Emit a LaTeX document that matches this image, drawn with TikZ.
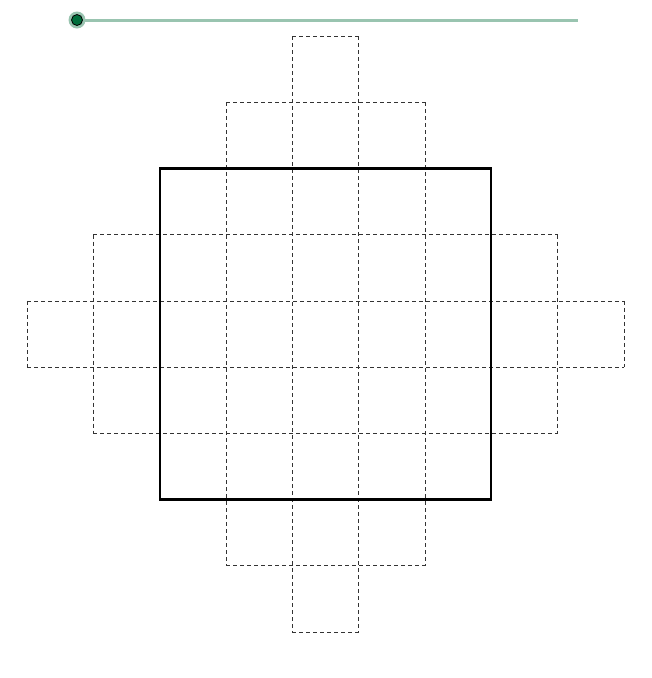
\documentclass[tikz,border=0pt]{standalone}
\begin{document}
\begin{tikzpicture}[x=1pt,y=-1pt,
  gridline/.style={draw=black!80,line width=0.6pt,dash pattern=on 4pt off 3pt},
  sq/.style={draw=black,line width=2.2pt},
  slider/.style={draw={rgb,255:red,153;green,196;blue,176},line width=3pt},
  knob/.style={circle,fill={rgb,255:red,0;green,110;blue,60},draw=black,line width=0.8pt,minimum size=11pt,inner sep=0pt},
  halo/.style={circle,fill={rgb,255:red,153;green,196;blue,176},minimum size=17pt,inner sep=0pt}]
\useasboundingbox (0,0) rectangle (652,678);
\def\cx#1{27+66.333*#1}
\def\ry#1{36+66.222*#1}
% slider
\coordinate (send) at (578,20);
\node[halo] (h) at (77,20) {};
\draw[slider] (h.center) -- (send);
\node[knob] (k) at (77,20) {};
% horizontal dashed lines: row index, from col, to col
\foreach \j/\a/\b in {0/4/5,1/3/6,2/2/7,3/1/8,4/0/9,5/0/9,6/1/8,7/2/7,8/3/6,9/4/5}{
  \draw[gridline] ({\cx{\a}},{\ry{\j}}) -- ({\cx{\b}},{\ry{\j}});
}
% vertical dashed lines: col index, from row, to row
\foreach \i/\a/\b in {0/4/5,1/3/6,2/2/7,3/1/8,4/0/9,5/0/9,6/1/8,7/2/7,8/3/6,9/4/5}{
  \draw[gridline] ({\cx{\i}},{\ry{\a}}) -- ({\cx{\i}},{\ry{\b}});
}
% solid square
\draw[sq] ({\cx{2}},{\ry{2}}) rectangle ({\cx{7}},{\ry{7}});
\end{tikzpicture}
\end{document}
